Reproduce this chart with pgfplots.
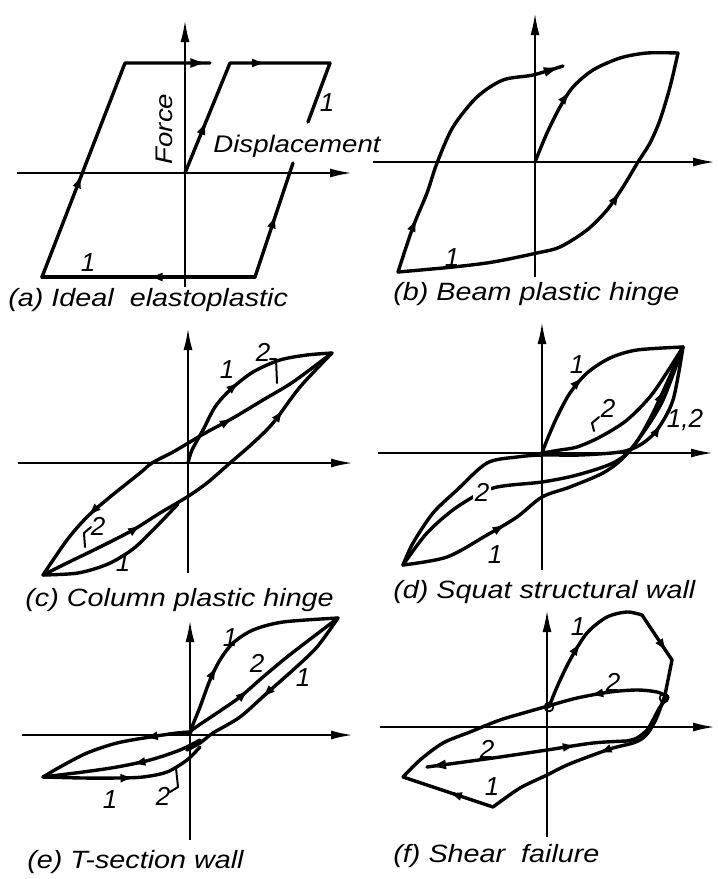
\documentclass[border=0pt]{standalone}
\usepackage{pgfplots}
\pgfplotsset{compat=1.18}
\usepackage{fontspec}
\setmainfont{Liberation Sans}
\newfontfamily\widefont[FakeStretch=1.15]{Liberation Sans}
\usetikzlibrary{arrows.meta,decorations.markings}

% arrowheads placed along a curve
\tikzset{
  fwd/.style={postaction={decorate,decoration={markings,mark=at position #1 with {\arrow{Latex[length=7pt,width=4.5pt]}}}}},
  bwd/.style={postaction={decorate,decoration={markings,mark=at position #1 with {\arrowreversed{Latex[length=7pt,width=4.5pt]}}}}},
  endtip/.style={postaction={decorate,decoration={markings,mark=at position 0.995 with {\arrow{Latex[length=9pt,width=5pt]}}}}},
  lab/.style={font=\itshape\fontsize{13}{13}\selectfont, inner sep=1pt},
  caption text/.style={font=\widefont\itshape\fontsize{12.5}{14}\selectfont, anchor=west, inner sep=0pt},
}
% one force-displacement panel: axes cross at the origin, no ticks
\pgfplotsset{
  panel/.style={
    anchor=origin, x=0.5pt, y=0.5pt,
    axis lines=middle,
    axis line style={line width=1.1pt, -{Latex[length=11pt,width=4.5pt]}},
    xtick=\empty, ytick=\empty, clip=false,
    every axis plot/.append style={line width=1.7pt, black, line join=round, line cap=round, mark=none},
  },
}

\begin{document}
\begin{tikzpicture}
\path[use as bounding box] (0,0) rectangle (359pt,-439.5pt);

% (a) ideal elastoplastic
\begin{axis}[panel, at={(92.5pt,-86.5pt)}, xmin=-168, xmax=167, ymin=-114, ymax=153]
  \addplot[fwd=0.35, endtip] coordinates {(-143,-104) (-60,110) (25,110)};
  \addplot[fwd=0.5] coordinates {(70,-104) (-143,-104)};
  \addplot[fwd=0.55] coordinates {(70,-104) (108,10)};
  \addplot[fwd=0.2, fwd=0.55] coordinates {(0,0) (45,110) (145,110) (123,51)};
  \node[lab] at (axis cs:-97,-90) {1};
  \node[lab] at (axis cs:142,70) {1};
  \node[lab, font=\widefont\itshape\fontsize{12}{12}\selectfont, rotate=90] at (axis cs:-21,44) {Force};
  \node[lab, font=\widefont\itshape\fontsize{12}{12}\selectfont] at (axis cs:112,27) {Displacement};
\end{axis}

% (b) beam plastic hinge
\begin{axis}[panel, at={(267.5pt,-81pt)}, xmin=-162, xmax=180, ymin=-115, ymax=149]
  \addplot[smooth, fwd=0.4] coordinates {(0,0) (12,29) (25,55) (38,75) (58,92) (85,104) (112,109) (143,109)};
  \addplot[smooth, fwd=0.62] coordinates {(-137,-110) (-82,-105) (-42,-100) (2,-91) (25,-85) (52,-68) (72,-48) (88,-25) (103,0) (115,19) (125,42) (135,75) (143,109)};
  \addplot[smooth, fwd=0.2, endtip] coordinates {(-137,-110) (-122,-65) (-108,-31) (-98,-1) (-82,35) (-58,65) (-32,82) (-2,87) (28,96)};
  \node[lab] at (axis cs:-83,-96) {1};
\end{axis}

% (c) column plastic hinge
\begin{axis}[panel, at={(94pt,-231.5pt)}, xmin=-170, xmax=165, ymin=-110, ymax=135]
  \addplot[smooth, fwd=0.5] coordinates {(0,0) (4,13) (15,33) (27,56) (42,73) (65,91) (92,103) (119,108) (144,110)};
  \addplot[smooth, bwd=0.2, fwd=0.68] coordinates {(-145,-112) (-121,-77) (-101,-54) (-78,-34) (-48,-10) (-36,0) (-15,11) (2,21) (19,31) (45,45) (75,63) (105,81) (144,110)};
  \addplot[smooth, fwd=0.3, fwd=0.8] coordinates {(-145,-112) (-121,-100) (-88,-84) (-55,-67) (-28,-50) (-1,-34) (19,-20) (42,0) (65,20) (85,40) (112,76) (144,110)};
  \addplot[smooth] coordinates {(-145,-112) (-110,-110) (-80,-101) (-55,-86) (-33,-65) (-10,-41)};
  \addplot[line width=1pt] coordinates {(82,104) (88,104) (89,80)};
  \addplot[line width=1pt] coordinates {(-97,-64) (-104,-70) (-103,-84)};
  \node[lab] at (axis cs:39,93) {1};
  \node[lab] at (axis cs:75,111) {2};
  \node[lab] at (axis cs:-90,-63) {2};
  \node[lab] at (axis cs:-65,-100) {1};
\end{axis}

% (d) squat structural wall
\begin{axis}[panel, at={(271pt,-226.5pt)}, xmin=-164, xmax=171, ymin=-117, ymax=131]
  \addplot[smooth, fwd=0.45] coordinates {(0,0) (5,13) (15,36) (28,60) (45,80) (68,95) (95,103) (141,106)};
  \addplot[smooth] coordinates {(0,0) (18,3) (35,6) (58,16) (85,33) (111,60) (141,106)};
  \addplot[smooth, fwd=0.8] coordinates {(-139,-112) (-129,-90) (-109,-60) (-85,-37) (-55,-10) (-25,-4) (0,-2) (38,-2) (78,1) (98,8) (115,23) (131,53) (141,106)};
  \addplot[smooth, fwd=0.88] coordinates {(-139,-112) (-115,-80) (-85,-54) (-49,-35) (0,-29) (35,-22) (71,-10) (91,6) (111,40) (141,106)};
  \addplot[smooth, fwd=0.3] coordinates {(-139,-112) (-95,-104) (-55,-82) (-25,-64) (0,-44) (28,-34) (61,-20) (81,-5) (101,20) (121,53) (141,106)};
  \addplot[line width=1pt] coordinates {(57,36) (50,30) (52,22)};
  \node[lab] at (axis cs:35,88) {1};
  \node[lab] at (axis cs:66,45) {2};
  \node[lab] at (axis cs:143,33) {1,2};
  \node[lab, fill=white] at (axis cs:-60,-39) {2};
  \node[lab] at (axis cs:-47,-102) {1};
\end{axis}

% (e) T-section wall
\begin{axis}[panel, at={(95pt,-367.5pt)}, xmin=-168, xmax=163, ymin=-105, ymax=115]
  \addplot[smooth, fwd=0.35] coordinates {(0,0) (2,8) (10,28) (20,55) (30,75) (43,92) (63,105) (93,113) (148,117)};
  \addplot[smooth, fwd=0.4] coordinates {(0,0) (2,5) (27,22) (50,38) (73,58) (97,78) (123,98) (148,117)};
  \addplot[smooth, bwd=0.45] coordinates {(-3,-15) (10,-8) (23,2) (50,18) (77,42) (103,65) (127,88) (148,117)};
  \addplot[smooth, fwd=0.3] coordinates {(0,3) (-13,2) (-40,-2) (-73,-8) (-103,-18) (-130,-32) (-147,-42)};
  \addplot[smooth, bwd=0.55] coordinates {(-147,-42) (-107,-37) (-73,-32) (-40,-25) (-10,-15) (10,-5)};
  \addplot[smooth, fwd=0.55] coordinates {(-147,-42) (-107,-43) (-73,-43) (-47,-42) (-23,-37) (-3,-25) (10,-12)};
  \addplot[line width=1pt] coordinates {(-20,-57) (-12,-52) (-14,-33)};
  \node[lab] at (axis cs:40,97) {1};
  \node[lab] at (axis cs:67,72) {2};
  \node[lab] at (axis cs:113,57) {1};
  \node[lab] at (axis cs:-80,-65) {1};
  \node[lab] at (axis cs:-27,-61) {2};
\end{axis}

% (f) shear failure
\begin{axis}[panel, at={(273.5pt,-363.5pt)}, xmin=-167, xmax=168, ymin=-110, ymax=117]
  \addplot[smooth, fwd=0.5] coordinates {(2,20) (10,40) (23,67) (40,94) (60,110) (80,115) (95,112)};
  \addplot[fwd=0.5] coordinates {(95,112) (125,67) (118,32)};
  \addplot[smooth, fwd=0.45] coordinates {(118,32) (110,10) (103,-3) (96,-11) (86,-16) (66,-21) (46,-28) (20,-38) (0,-48) (-27,-61) (-54,-80)};
  \addplot[fwd=0.5] coordinates {(-54,-80) (-144,-50)};
  \addplot[smooth, bwd=0.72] coordinates {(-144,-50) (-127,-33) (-104,-16) (-77,-5) (-47,7) (-20,15) (1,21) (30,29) (63,35) (90,37) (110,35) (121,30)};
  \addplot[smooth] coordinates {(121,30) (113,20) (106,7) (100,-3) (90,-11) (80,-14)};
  \addplot[smooth, bwd=0.25, endtip] coordinates {(80,-14) (46,-16) (0,-23) (-54,-31) (-120,-40)};
  \addplot[only marks, mark=o, mark size=2.2pt, mark options={fill=white, line width=0.9pt}] coordinates {(2,20) (117,29)};
  \node[lab] at (axis cs:31,100) {1};
  \node[lab] at (axis cs:66,45) {2};
  \node[lab] at (axis cs:-60,-22) {2};
  \node[lab] at (axis cs:-55,-60) {1};
\end{axis}

% panel captions
\node[caption text] at (4pt,-150pt) {(a) Ideal\ \ elastoplastic};
\node[caption text] at (196.5pt,-147pt) {(b) Beam\ plastic hinge};
\node[caption text] at (12.5pt,-300pt) {(c) Column\ plastic hinge};
\node[caption text] at (196.5pt,-296pt) {(d) Squat\ structural wall};
\node[caption text] at (13.5pt,-431pt) {(e)\ T-section wall};
\node[caption text] at (196.5pt,-428pt) {(f) Shear\ \ failure};
\end{tikzpicture}
\end{document}
